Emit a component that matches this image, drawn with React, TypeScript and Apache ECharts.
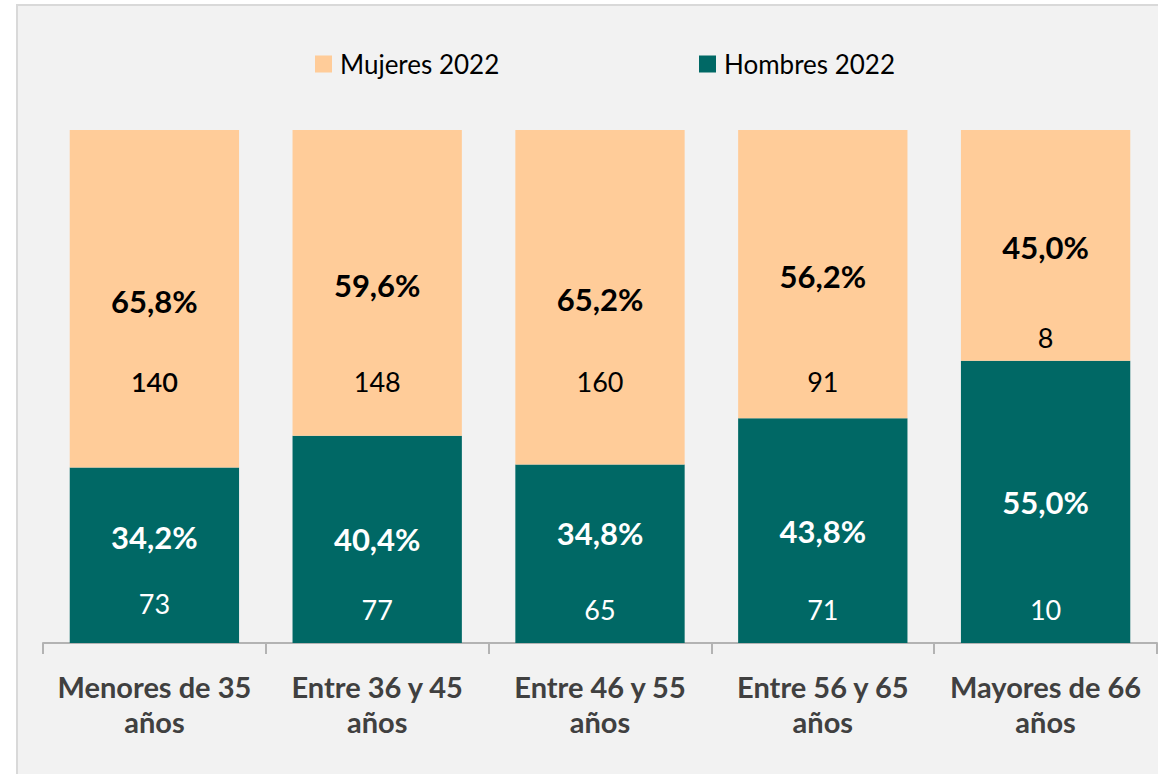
import React, { useEffect, useRef } from "react";
import * as echarts from "echarts";

const categories = [
  "Menores de 35\naños",
  "Entre 36 y 45\naños",
  "Entre 46 y 55\naños",
  "Entre 56 y 65\naños",
  "Mayores de 66\naños",
];
const hombresPct = [34.2, 40.4, 34.8, 43.8, 55.0];
const mujeresPct = [65.8, 59.6, 65.2, 56.2, 45.0];
const hombresCount = [73, 77, 65, 71, 10];
const mujeresCount = [140, 148, 160, 91, 8];

const FONT = "Lato, 'Open Sans', sans-serif";
const C_MUJ = "#FFCC99";
const C_HOM = "#006865";

const fmtPct = (v: number) => v.toFixed(1).replace(".", ",") + "%";

export default function App() {
  const ref = useRef<HTMLDivElement>(null);
  useEffect(() => {
    if (!ref.current) return;
    const chart = echarts.init(ref.current, null, { renderer: "svg" });
    const pctLabel = (color: string) => ({
      show: true,
      position: "inside" as const,
      color,
      fontFamily: FONT,
      fontSize: 31,
      fontWeight: "bold" as const,
      formatter: (p: any) => fmtPct(p.value),
    });
    const legendBase = {
      top: 51,
      padding: 0,
      icon: "rect",
      itemWidth: 17,
      itemHeight: 17,
      itemGap: 0,
      textStyle: { fontFamily: FONT, fontSize: 26, color: "#000", padding: [0, 0, 0, 3] },
    };
    chart.setOption({
      animation: false,
      backgroundColor: "#ffffff",
      textStyle: { fontFamily: FONT },
      graphic: [
        {
          type: "rect",
          z: -10,
          silent: true,
          shape: { x: 17, y: 5, width: 1160, height: 790 },
          style: { fill: "#f2f2f2", stroke: "#d9d9d9", lineWidth: 2 },
        },
      ],
      legend: [
        { ...legendBase, left: 315, data: ["Mujeres 2022"] },
        { ...legendBase, left: 699, data: ["Hombres 2022"] },
      ],
      grid: { left: 43, right: 1, top: 130, bottom: 131, containLabel: false },
      xAxis: {
        type: "category",
        data: categories,
        axisLine: { show: true, lineStyle: { color: "#b3b3b3", width: 2 } },
        axisTick: { show: true, alignWithLabel: false, length: 11, lineStyle: { color: "#b3b3b3", width: 2 } },
        axisLabel: {
          interval: 0,
          margin: 26,
          fontFamily: FONT,
          fontSize: 29,
          fontWeight: "bold",
          color: "#404040",
          lineHeight: 35,
        },
      },
      yAxis: { type: "value", min: 0, max: 100, show: false, splitLine: { show: false } },
      series: [
        {
          name: "Hombres 2022",
          type: "bar",
          stack: "pct",
          barCategoryGap: "24%",
          data: hombresPct.map((v, i) =>
            i === 0
              ? { value: v, label: { offset: [0, -18] } }
              : i === 2
              ? { value: v, label: { offset: [0, -21] } }
              : v
          ),
          itemStyle: { color: C_HOM },
          label: pctLabel("#ffffff"),
        },
        {
          name: "Mujeres 2022",
          type: "bar",
          stack: "pct",
          barCategoryGap: "24%",
          data: mujeresPct,
          itemStyle: { color: C_MUJ },
          label: { ...pctLabel("#000000"), offset: [0, 2] },
        },
        {
          name: "hCount",
          type: "bar",
          stack: "cnt",
          barGap: "-100%",
          barCategoryGap: "24%",
          silent: true,
          data: hombresPct.map((v, i) => (i === 0 ? { value: v, label: { distance: 26 } } : v)),
          itemStyle: { color: "rgba(0,0,0,0)" },
          label: {
            show: true,
            position: "insideBottom",
            distance: 20,
            color: "#ffffff",
            fontFamily: FONT,
            fontSize: 27,
            formatter: (p: any) => String(hombresCount[p.dataIndex]),
          },
        },
        {
          name: "mCount",
          type: "bar",
          stack: "cnt",
          barGap: "-100%",
          barCategoryGap: "24%",
          silent: true,
          data: mujeresPct.map((v, i) =>
            i === 4
              ? { value: v, label: { distance: 194 } }
              : i === 0
              ? { value: v, label: { fontWeight: 600 } }
              : v
          ),
          itemStyle: { color: "rgba(0,0,0,0)" },
          label: {
            show: true,
            position: "insideTop",
            distance: 238,
            color: "#000000",
            fontFamily: FONT,
            fontSize: 27,
            formatter: (p: any) => String(mujeresCount[p.dataIndex]),
          },
        },
      ],
    });
    return () => chart.dispose();
  }, []);
  return (
    <div
      ref={ref}
      style={{ position: "fixed", left: 0, top: 0, width: 1158, height: 774 }}
    />
  );
}
